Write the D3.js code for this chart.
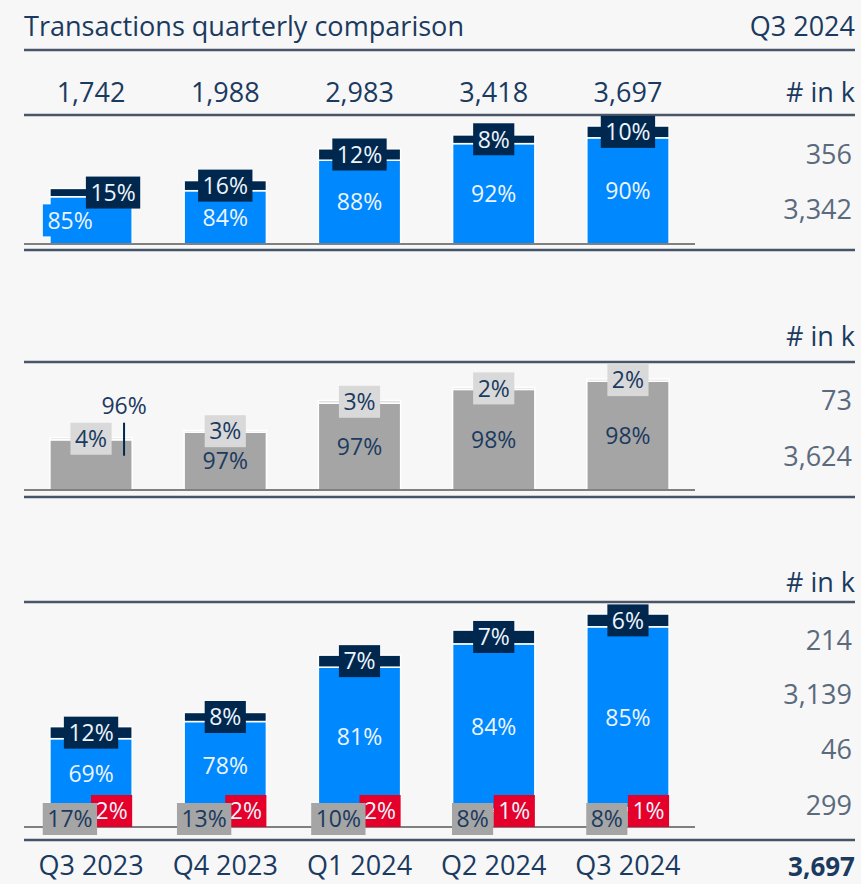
<!DOCTYPE html>
<html>
<head>
<meta charset="utf-8">
<script src="https://cdn.jsdelivr.net/npm/d3@7"></script>
<style>
  body { margin: 0; background: #f7f7f7; }
  svg { display: block; font-family: "Open Sans", sans-serif; }
</style>
</head>
<body>
<div id="chart"></div>
<script>
let svgWidth = 861;
let svgHeight = 884;

// Data

let quarters = ["Q3 2023", "Q4 2023", "Q1 2024", "Q2 2024", "Q3 2024"];
let totals = [1742, 1988, 2983, 3418, 3697];

// panel 1: bottom (blue) / top (navy) shares in %
let p1Bottom = [85, 84, 88, 92, 90];
let p1Top = [15, 16, 12, 8, 10];
let p1Values = ["356", "3,342"];

// panel 2: bottom (gray) / top (light gray) shares in %
let p2Bottom = [96, 97, 97, 98, 98];
let p2Top = [4, 3, 3, 2, 2];
let p2Values = ["73", "3,624"];

// panel 3: gray, red, blue, navy shares in % (bottom to top)
let p3Gray = [17, 13, 10, 8, 8];
let p3Red = [2, 2, 2, 1, 1];
let p3Blue = [69, 78, 81, 84, 85];
let p3Navy = [12, 8, 7, 7, 6];
let p3Values = ["214", "3,139", "46", "299"];

let titleText = "Transactions quarterly comparison";
let periodText = "Q3 2024";
let unitText = "# in k";
let grandTotal = "3,697";

// Styles

let navyText = "#1b3a5f";
let grayText = "#5b6a7d";
let lightText = "#eef4fc";
let colors = { blue: "#0088ff", navy: "#00284f", gray: "#a5a5a5", light: "#d9d9d9", red: "#e4002b" };
let pctSize = 23;

let svg = d3.select("#chart").append("svg").attr("width", svgWidth).attr("height", svgHeight);
svg.append("rect").attr("width", svgWidth).attr("height", svgHeight).attr("fill", "#f7f7f7");

let x = d3.scaleBand()
  .domain(quarters)
  .range([24, 695])
  .paddingInner(0.387)
  .paddingOuter(0.193);

let hline = (y, x2, color, w) => {
  svg.append("line")
    .attr("x1", 24).attr("x2", x2)
    .attr("y1", y).attr("y2", y)
    .attr("stroke", color).attr("stroke-width", w);
};

let addText = (tx, ty, str, opts) => {
  return svg.append("text")
    .attr("x", tx).attr("y", ty)
    .attr("text-anchor", opts.anchor || "middle")
    .attr("font-size", opts.size || 27)
    .attr("font-weight", opts.weight || 400)
    .attr("fill", opts.color || navyText)
    .text(str);
};

// label with a filled box behind it, centred on (cx, cy)
let boxLabel = (cx, cy, str, fill, color) => {
  let g = svg.append("g");
  let rect = g.append("rect").attr("fill", fill);
  let t = g.append("text")
    .attr("x", cx).attr("y", cy).attr("dy", "0.36em")
    .attr("text-anchor", "middle")
    .attr("font-size", pctSize)
    .attr("fill", color)
    .text(str);
  let w = t.node().getComputedTextLength() + 9;
  rect.attr("x", cx - w / 2).attr("y", cy - 16).attr("width", w).attr("height", 32);
  return w;
};

let stackRows = (shares) => quarters.map((q, i) => {
  let row = { q: q };
  let sum = d3.sum(shares, s => s.values[i]);
  shares.forEach(s => { row[s.key] = totals[i] * s.values[i] / sum; });
  return row;
});

let drawStack = (series, y, fills) => {
  series.forEach(s => {
    svg.append("g").selectAll("rect")
      .data(s)
      .enter()
      .append("rect")
      .attr("x", d => x(d.data.q))
      .attr("width", x.bandwidth())
      .attr("y", d => y(d[1]))
      .attr("height", d => y(d[0]) - y(d[1]))
      .attr("fill", fills[s.key])
      .attr("stroke", "#ffffff")
      .attr("stroke-width", 1.5);
  });
};

// Header

addText(24, 36, titleText, { anchor: "start", size: 28 }).attr("textLength", 440).attr("lengthAdjust", "spacingAndGlyphs");
addText(855, 36, periodText, { anchor: "end", size: 27 });
hline(50, 855, "#4a5568", 2.5);
quarters.forEach((q, i) => {
  addText(x(q) + x.bandwidth() / 2, 102, d3.format(",")(totals[i]), { size: 27 });
});
addText(855, 102, unitText, { anchor: "end", size: 27 });

// Panel 1

let base1 = 244;
let y1 = d3.scaleLinear().domain([0, d3.max(totals)]).range([base1, 126]);
hline(115, 855, "#4a5568", 2.5);
let s1 = d3.stack().keys(["bottom", "top"])(stackRows([
  { key: "bottom", values: p1Bottom },
  { key: "top", values: p1Top }
]));
drawStack(s1, y1, { bottom: colors.blue, top: colors.navy });
hline(base1, 695, "#808080", 2);
hline(250, 855, "#44546a", 2.5);

quarters.forEach((q, i) => {
  let cx = x(q) + x.bandwidth() / 2;
  let b = s1[0][i], t = s1[1][i];
  let tight = y1(0) - y1(t[1]) < 57;
  let bcy = (y1(b[0]) + y1(b[1])) / 2;
  let tcy = (y1(t[0]) + y1(t[1])) / 2;
  boxLabel(tight ? cx - 21 : cx, bcy, p1Bottom[i] + "%", colors.blue, lightText);
  boxLabel(tight ? cx + 22 : cx, tcy, p1Top[i] + "%", colors.navy, lightText);
});
addText(852, 164, p1Values[0], { anchor: "end", color: grayText });
addText(852, 219, p1Values[1], { anchor: "end", color: grayText });

// Panel 2

let base2 = 490;
let y2 = d3.scaleLinear().domain([0, d3.max(totals)]).range([base2, 379]);
addText(855, 346, unitText, { anchor: "end" });
hline(362, 855, "#4a5568", 2.5);
let s2 = d3.stack().keys(["bottom", "top"])(stackRows([
  { key: "bottom", values: p2Bottom },
  { key: "top", values: p2Top }
]));
drawStack(s2, y2, { bottom: colors.gray, top: colors.light });
hline(base2, 695, "#808080", 2);
hline(497, 855, "#44546a", 2.5);

quarters.forEach((q, i) => {
  let cx = x(q) + x.bandwidth() / 2;
  let b = s2[0][i], t = s2[1][i];
  let top = y2(t[1]);
  let tight = y2(0) - top < 57;
  let tcy = (y2(t[0]) + y2(t[1])) / 2;
  if (tight) {
    // label moved above the bar with a leader line
    svg.append("line")
      .attr("x1", cx + 33).attr("x2", cx + 33)
      .attr("y1", top - 15).attr("y2", top + 18)
      .attr("stroke", colors.navy).attr("stroke-width", 2);
    addText(cx + 33, top - 24, p2Bottom[i] + "%", { size: pctSize });
  } else {
    let bcy = (y2(b[0]) + y2(b[1])) / 2;
    addText(cx, bcy, p2Bottom[i] + "%", { size: pctSize }).attr("dy", "0.36em");
  }
  boxLabel(cx, tcy, p2Top[i] + "%", colors.light, navyText);
});
addText(852, 410, p2Values[0], { anchor: "end", color: grayText });
addText(852, 466, p2Values[1], { anchor: "end", color: grayText });

// Panel 3

let base3 = 827;
let y3 = d3.scaleLinear().domain([0, d3.max(totals)]).range([base3, 614]);
addText(855, 592, unitText, { anchor: "end" });
hline(602, 855, "#4a5568", 2.5);
let s3 = d3.stack().keys(["gray", "red", "blue", "navy"])(stackRows([
  { key: "gray", values: p3Gray },
  { key: "red", values: p3Red },
  { key: "blue", values: p3Blue },
  { key: "navy", values: p3Navy }
]));
drawStack(s3, y3, colors);
hline(base3, 695, "#808080", 2);
hline(840, 855, "#44546a", 2.5);

quarters.forEach((q, i) => {
  let x0 = x(q), x1 = x0 + x.bandwidth();
  let cx = x0 + x.bandwidth() / 2;
  let bl = s3[2][i], nv = s3[3][i];
  addText(cx, (y3(bl[0]) + y3(bl[1])) / 2, p3Blue[i] + "%", { size: pctSize, color: lightText }).attr("dy", "0.36em");
  boxLabel(cx, (y3(nv[0]) + y3(nv[1])) / 2, p3Navy[i] + "%", colors.navy, lightText);
  // red label right-aligned to the bar, gray label at the bar's left foot
  let tmp = svg.append("text").attr("font-size", pctSize).text(p3Red[i] + "%");
  let rw = tmp.node().getComputedTextLength() + 9;
  tmp.remove();
  boxLabel(x1 - rw / 2, y3(0) - 16, p3Red[i] + "%", colors.red, lightText);
  boxLabel(x0 + 20, y3(0) - 8, p3Gray[i] + "%", colors.gray, navyText);
});
p3Values.forEach((v, i) => {
  addText(852, [650, 704, 759, 815][i], v, { anchor: "end", color: grayText });
});

// X axis labels

let xAxis = svg.append("g")
  .attr("transform", `translate(0, ${base3})`)
  .call(d3.axisBottom(x).tickSize(0).tickPadding(0));
xAxis.select(".domain").remove();
xAxis.selectAll("text")
  .attr("y", 48)
  .attr("dy", 0)
  .attr("font-size", 27)
  .attr("font-family", "Open Sans, sans-serif")
  .attr("fill", navyText);
addText(855, 876, grandTotal, { anchor: "end", size: 26, weight: 700 });
</script>
</body>
</html>
